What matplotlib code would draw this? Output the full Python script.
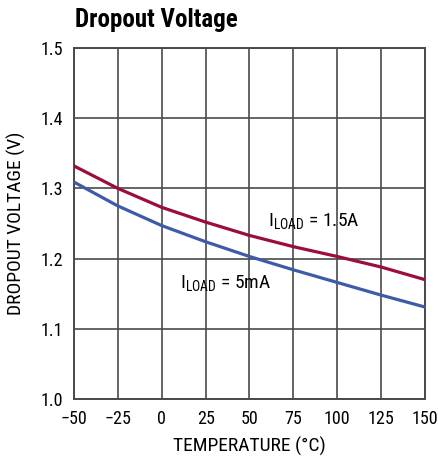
import numpy as np
import matplotlib.pyplot as plt

# donnees
temp = [-50, -25, 0, 25, 50, 75, 100, 125, 150]
v_15A = [1.332, 1.300, 1.273, 1.252, 1.233, 1.217, 1.203, 1.188, 1.170]
v_5mA = [1.309, 1.275, 1.247, 1.224, 1.203, 1.184, 1.166, 1.148, 1.131]
xticks = [-50, -25, 0, 25, 50, 75, 100, 125, 150]
xlabels = ["\u221250", "\u221225", "0", "25", "50", "75", "100", "125", "150"]
yticks = [1.0, 1.1, 1.2, 1.3, 1.4, 1.5]

police = ['Roboto Condensed', 'DejaVu Sans']
plt.rcParams['font.family'] = police
plt.rcParams['mathtext.fontset'] = 'custom'
plt.rcParams['mathtext.rm'] = 'Roboto Condensed'

fig = plt.figure(figsize=(4.39, 4.62), dpi=100)
axe = fig.add_axes([74/439, 1 - 399/462, 351/439, 351/462])

axe.plot(temp, v_15A, color='#9b0d3c', lw=2.3, zorder=3)
axe.plot(temp, v_5mA, color='#3e5ba8', lw=2.3, zorder=3)

axe.set_xlim(-50, 150)
axe.set_ylim(1.0, 1.5)
axe.set_xticks(xticks)
axe.set_xticklabels(xlabels)
axe.set_yticks(yticks)
axe.set_yticklabels(["%.1f" % y for y in yticks])
axe.tick_params(length=0, labelsize=13)
axe.tick_params(axis='x', pad=8)
axe.tick_params(axis='y', pad=8)
axe.grid(True, color='#4a4a4a', lw=1.2)
for s in axe.spines.values():
    s.set_color('#4a4a4a')
    s.set_linewidth(1.4)

axe.set_xlabel("TEMPERATURE (\u00b0C)", fontsize=14, labelpad=6)
axe.set_ylabel("DROPOUT VOLTAGE (V)", fontsize=14, labelpad=10)

axe.text(60.5, 1.245, r'I$_\mathrm{LOAD}$ = 1.5A', fontsize=14, ha='left', va='baseline')
axe.text(10.4, 1.157, r'I$_\mathrm{LOAD}$ = 5mA', fontsize=14, ha='left', va='baseline')

fig.text(75/439, 1 - 27/462, "Dropout Voltage", fontsize=18, fontweight='bold',
         ha='left', va='baseline')

fig.savefig("out.png", dpi=100)
